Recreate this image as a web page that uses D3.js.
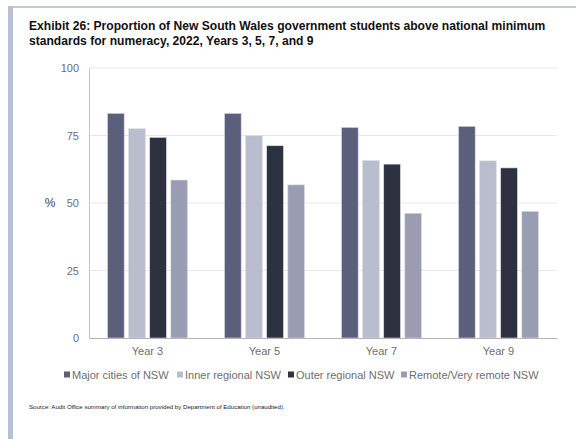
<!DOCTYPE html>
<html>
<head>
<meta charset="utf-8">
<script src="https://cdn.jsdelivr.net/npm/d3@7"></script>
<style>
  html, body { margin: 0; padding: 0; background: #fff; }
  svg { display: block; font-family: "Liberation Sans", Arial, sans-serif; }
</style>
</head>
<body>
<svg id="chart" width="576" height="439"></svg>
<script>
// Year levels along the x axis
const years = ["Year 3", "Year 5", "Year 7", "Year 9"];
// Regions (one bar per region within each year group)
const regions = ["Major cities of NSW", "Inner regional NSW", "Outer regional NSW", "Remote/Very remote NSW"];
// Percentage of students above national minimum standard, by region
const majorCities = [83.2, 83.2, 78.0, 78.4];
const innerRegional = [77.5, 74.9, 65.7, 65.6];
const outerRegional = [74.3, 71.2, 64.4, 63.0];
const remote = [58.5, 56.7, 46.2, 46.9];
const yTicks = [0, 25, 50, 75, 100];
const colors = ["#5b5f7b", "#babdcd", "#2e3140", "#9a9db2"];

const series = [majorCities, innerRegional, outerRegional, remote];

const svg = d3.select("#chart");

// Page frame: thin top rule and thicker left rule
svg.append("rect").attr("x", 8).attr("y", 6).attr("width", 568).attr("height", 2).attr("fill", "#c3c9d9");
svg.append("rect").attr("x", 8).attr("y", 6).attr("width", 5).attr("height", 433).attr("fill", "#b7bfd4");

// Title
const title = svg.append("text")
  .attr("x", 29).attr("y", 30)
  .attr("font-size", 12.1).attr("font-weight", "bold").attr("fill", "#111");
title.append("tspan").attr("x", 29).text("Exhibit 26: Proportion of New South Wales government students above national minimum");
title.append("tspan").attr("x", 29).attr("dy", 15).text("standards for numeracy, 2022, Years 3, 5, 7, and 9");

const plot = { left: 89, right: 557, top: 68, bottom: 338 };

const x0 = d3.scaleBand().domain(years).range([plot.left, plot.right]).paddingInner(0).paddingOuter(0);
const groupWidth = 80;
const x1 = d3.scaleBand().domain(d3.range(regions.length)).range([0, groupWidth]).paddingInner(0.21).paddingOuter(0);
const y = d3.scaleLinear().domain([0, 100]).range([plot.bottom, plot.top]);

// Gridlines
svg.append("g")
  .selectAll("line")
  .data(yTicks.filter(d => d > 0))
  .join("line")
  .attr("x1", plot.left).attr("x2", plot.right)
  .attr("y1", d => y(d)).attr("y2", d => y(d))
  .attr("stroke", "#e8e8e8").attr("stroke-width", 1);

// Y axis
const yAxis = svg.append("g")
  .attr("transform", `translate(${plot.left},0)`)
  .call(d3.axisLeft(y).tickValues(yTicks).tickSize(0).tickPadding(10));
yAxis.select(".domain").attr("stroke", "#c4c4c4");
yAxis.selectAll("text").attr("font-size", 11).attr("fill", "#6e6e6e")
  .attr("font-family", "Liberation Sans, Arial, sans-serif");

svg.append("text")
  .attr("x", 50).attr("y", y(50) + 4)
  .attr("text-anchor", "middle")
  .attr("font-size", 12).attr("fill", "#444")
  .text("%");

// Bars
const groups = svg.append("g")
  .selectAll("g")
  .data(years)
  .join("g")
  .attr("transform", d => `translate(${x0(d) + (x0.bandwidth() - groupWidth) / 2},0)`);

groups.selectAll("rect")
  .data((d, i) => series.map((s, k) => ({ k, v: s[i] })))
  .join("rect")
  .attr("x", d => x1(d.k))
  .attr("width", x1.bandwidth())
  .attr("y", d => y(d.v))
  .attr("height", d => y(0) - y(d.v))
  .attr("fill", d => colors[d.k])
  .attr("stroke", "#d9dbe4").attr("stroke-width", 0.6);

// X axis
const xAxis = svg.append("g")
  .attr("transform", `translate(0,${plot.bottom})`)
  .call(d3.axisBottom(x0).tickSize(0).tickPadding(9));
xAxis.select(".domain").attr("stroke", "#b4b4b4").attr("stroke-width", 1.2);
xAxis.selectAll("text").attr("font-size", 11).attr("fill", "#6e6e6e")
  .attr("font-family", "Liberation Sans, Arial, sans-serif");

// Legend
const legendX = [64, 177, 288, 401];
const legend = svg.append("g")
  .selectAll("g")
  .data(regions)
  .join("g")
  .attr("transform", (d, i) => `translate(${legendX[i]},375)`);
legend.append("rect")
  .attr("x", 0).attr("y", -3.5).attr("width", 6).attr("height", 6)
  .attr("fill", (d, i) => colors[i]);
legend.append("text")
  .attr("x", 8).attr("y", 4)
  .attr("font-size", 11).attr("fill", "#6e6e6e")
  .text(d => d);

// Source note
svg.append("text")
  .attr("x", 29).attr("y", 409)
  .attr("font-size", 6.1).attr("fill", "#222")
  .text("Source: Audit Office summary of information provided by Department of Education (unaudited).");
</script>
</body>
</html>
